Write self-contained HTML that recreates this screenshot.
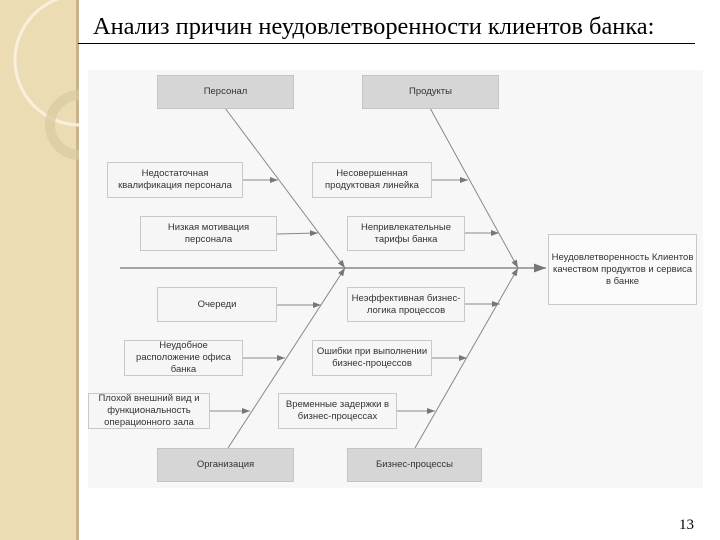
<!DOCTYPE html>
<html><head><meta charset="utf-8"><style>
body{margin:0;width:720px;height:540px;background:#fff;position:relative;overflow:hidden;font-family:"Liberation Sans",sans-serif}
.side{position:absolute;left:0;top:0;width:76px;height:540px;background:#ecdcb4}
.bd{position:absolute;left:76px;top:0;width:3px;height:540px;background:#c9b38a}
.title{position:absolute;left:93px;top:13px;font:24.4px "Liberation Serif",serif;color:#000;white-space:nowrap}
.ul{position:absolute;left:78px;top:43px;width:617px;height:1px;background:#000}
.area{position:absolute;left:88px;top:70px;width:615px;height:418px;background:#f7f7f7}
.b{position:absolute;border:1px solid #c8c8c8;background:#f6f6f6;font-size:9.5px;color:#333;display:flex;align-items:center;justify-content:center;text-align:center;line-height:12px;box-sizing:border-box}
.g{background:#d6d6d6;border-color:#c4c4c4}
.num{position:absolute;left:679px;top:517px;font:15px "Liberation Serif",serif}
</style></head><body>
<div class="side"></div><div class="bd"></div>
<svg style="position:absolute;left:0;top:0" width="79" height="540">
<circle cx="80" cy="60" r="65" fill="none" stroke="#f8f0dc" stroke-width="3"/>
<circle cx="80" cy="125" r="30" fill="none" stroke="#d9c9a0" stroke-width="10" opacity=".7"/>
</svg>
<div class="title">Анализ причин неудовлетворенности клиентов банка:</div>
<div class="ul"></div>
<div class="area"></div>
<svg style="position:absolute;left:0;top:0" width="720" height="540">
<defs><marker id="a" markerWidth="8" markerHeight="6" refX="8" refY="3" orient="auto"><path d="M0,0L8,3L0,6z" fill="#777"/></marker></defs>
<g stroke="#888" stroke-width="1" fill="none">
<line x1="120" y1="268" x2="546" y2="268" stroke-width="1.5" marker-end="url(#a)"/>
<line x1="225" y1="108" x2="345" y2="268" marker-end="url(#a)"/>
<line x1="430" y1="108" x2="518" y2="268" marker-end="url(#a)"/>
<line x1="228" y1="448" x2="345" y2="268" marker-end="url(#a)"/>
<line x1="415" y1="448" x2="518" y2="268" marker-end="url(#a)"/>
<line x1="243" y1="180" x2="278" y2="180" marker-end="url(#a)"/>
<line x1="432" y1="180" x2="468" y2="180" marker-end="url(#a)"/>
<line x1="277" y1="234" x2="318" y2="233" marker-end="url(#a)"/>
<line x1="465" y1="233" x2="499" y2="233" marker-end="url(#a)"/>
<line x1="277" y1="305" x2="321" y2="305" marker-end="url(#a)"/>
<line x1="465" y1="304" x2="500" y2="304" marker-end="url(#a)"/>
<line x1="243" y1="358" x2="285" y2="358" marker-end="url(#a)"/>
<line x1="432" y1="358" x2="467" y2="358" marker-end="url(#a)"/>
<line x1="210" y1="411" x2="250" y2="411" marker-end="url(#a)"/>
<line x1="397" y1="411" x2="435" y2="411" marker-end="url(#a)"/>
</g></svg>
<div class="b g" style="left:157px;top:75px;width:137px;height:34px">Персонал</div>
<div class="b g" style="left:362px;top:75px;width:137px;height:34px">Продукты</div>
<div class="b g" style="left:157px;top:448px;width:137px;height:34px">Организация</div>
<div class="b g" style="left:347px;top:448px;width:135px;height:34px">Бизнес-процессы</div>
<div class="b" style="left:107px;top:162px;width:136px;height:36px">Недостаточная<br>квалификация персонала</div>
<div class="b" style="left:312px;top:162px;width:120px;height:36px">Несовершенная<br>продуктовая линейка</div>
<div class="b" style="left:140px;top:216px;width:137px;height:35px">Низкая мотивация<br>персонала</div>
<div class="b" style="left:347px;top:216px;width:118px;height:35px">Непривлекательные<br>тарифы банка</div>
<div class="b" style="left:157px;top:287px;width:120px;height:35px">Очереди</div>
<div class="b" style="left:347px;top:287px;width:118px;height:35px">Неэффективная бизнес-<br>логика процессов</div>
<div class="b" style="left:124px;top:340px;width:119px;height:36px">Неудобное<br>расположение офиса<br>банка</div>
<div class="b" style="left:312px;top:340px;width:120px;height:36px">Ошибки при выполнении<br>бизнес-процессов</div>
<div class="b" style="left:88px;top:393px;width:122px;height:36px">Плохой внешний вид и<br>функциональность<br>операционного зала</div>
<div class="b" style="left:278px;top:393px;width:119px;height:36px">Временные задержки в<br>бизнес-процессах</div>
<div class="b" style="left:548px;top:234px;width:149px;height:71px;background:#fafafa">Неудовлетворенность Клиентов<br>качеством продуктов и сервиса<br>в банке</div>
<div class="num">13</div>
</body></html>
